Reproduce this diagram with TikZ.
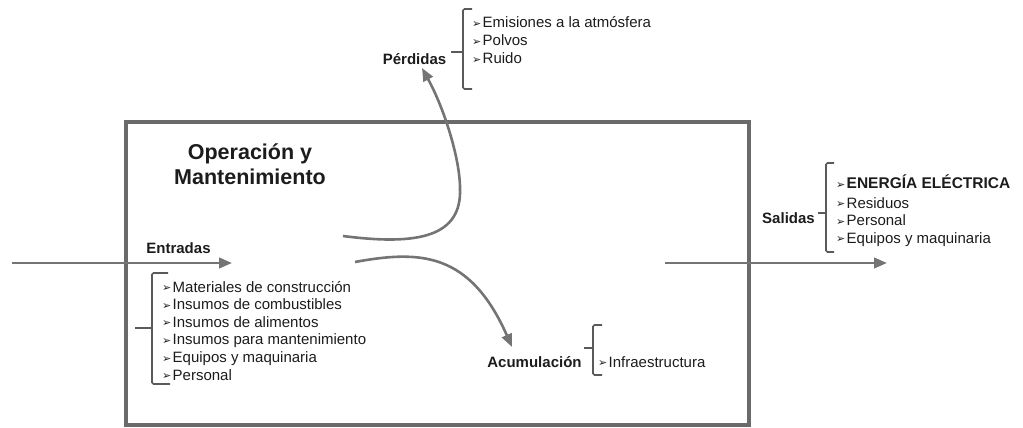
\documentclass[tikz,border=0pt]{standalone}
\usepackage{fontspec}
\setmainfont{Liberation Sans}
\newfontfamily\symf{DejaVu Sans}
\usetikzlibrary{arrows.meta}
\definecolor{boxgray}{HTML}{6A6A6A}
\definecolor{linegray}{HTML}{747474}
\definecolor{bracegray}{HTML}{5A5A5A}
\definecolor{txt}{HTML}{1C1C1C}
\newcommand\bul{\makebox[10.5pt][l]{\raisebox{0.3pt}{\symf\fontsize{11}{11}\selectfont ➢}}}
\begin{document}
\begin{tikzpicture}[x=1pt,y=-1pt,
  frame/.style={draw=boxgray,line width=4pt},
  flow/.style={draw=linegray,line width=2.6pt,-{Triangle[length=13pt,width=10.5pt]}},
  brace/.style={draw=bracegray,line width=1.6pt,rounded corners=1.5pt},
  lbl/.style={font=\fontsize{15}{18}\selectfont\bfseries,text=txt,inner sep=0pt,anchor=base},
  titl/.style={font=\fontsize{21.5}{25}\selectfont\bfseries,text=txt,inner sep=0pt,anchor=base},
  item/.style={font=\fontsize{15}{17.6}\selectfont,text=txt,inner sep=0pt,anchor=base west},
  big/.style={font=\fontsize{15.5}{18}\selectfont\bfseries,text=txt,inner sep=0pt,anchor=base west},
]
\useasboundingbox (0,0) rectangle (1023,428);
% main box
\draw[frame] (126,122) rectangle (749,425);
% title
\node[titl] (op1) at (250,159.5) {Operación y};
\node[titl] (op2) at (250,184.5) {Mantenimiento};
% input / output arrows
\coordinate (inS) at (12,263);
\coordinate (inE) at (232,263);
\coordinate (outS) at (665,263);
\coordinate (outE) at (887,263);
\draw[flow] (inS) -- (inE);
\draw[flow] (outS) -- (outE);
% curved flows
\coordinate (perdS) at (343,236);
\coordinate (perdE) at (422,68);
\draw[flow] (perdS) .. controls (420,246) and (462,236) .. (460,188)
  .. controls (460,160) and (445,110) .. (perdE);
\coordinate (accS) at (355,262);
\coordinate (accE) at (512,347);
\draw[flow] (accS) .. controls (420,250) and (470,252) .. (accE);
% labels
\node[lbl] (entradas) at (178.5,253) {Entradas};
\node[lbl] (perdidas) at (414.5,65) {Pérdidas};
\node[lbl] (salidas) at (788.5,223) {Salidas};
\node[lbl] (acum) at (534.5,367) {Acumulación};
% Entradas list
\draw[brace] (168,273) -- (152,273) -- (152,384) -- (170,384);
\draw[brace] (152,328) -- (135,328);
\node[item] (e1) at (162,292) {\bul Materiales de construcción};
\node[item] (e2) at (162,309.6) {\bul Insumos de combustibles};
\node[item] (e3) at (162,327.2) {\bul Insumos de alimentos};
\node[item] (e4) at (162,344.8) {\bul Insumos para mantenimiento};
\node[item] (e5) at (162,362.4) {\bul Equipos y maquinaria};
\node[item] (e6) at (162,380) {\bul Personal};
% Perdidas list
\draw[brace] (472,9) -- (463,9) -- (463,89) -- (472,89);
\draw[brace] (463,52) -- (451,52);
\node[item] (p1) at (472,28) {\bul Emisiones a la atmósfera};
\node[item] (p2) at (472,46) {\bul Polvos};
\node[item] (p3) at (472,64) {\bul Ruido};
% Salidas list
\draw[brace] (834,163) -- (826,163) -- (826,252) -- (834,252);
\draw[brace] (826,213) -- (818,213);
\node[big] (s1) at (836,188.5) {\bul ENERGÍA ELÉCTRICA};
\node[item] (s2) at (836,208) {\bul Residuos};
\node[item] (s3) at (836,225.5) {\bul Personal};
\node[item] (s4) at (836,243) {\bul Equipos y maquinaria};
% Acumulacion list
\draw[brace] (602,325) -- (593,325) -- (593,375) -- (602,375);
\draw[brace] (593,348) -- (584,348);
\node[item] (a1) at (598,367) {\bul Infraestructura};
\end{tikzpicture}
\end{document}
